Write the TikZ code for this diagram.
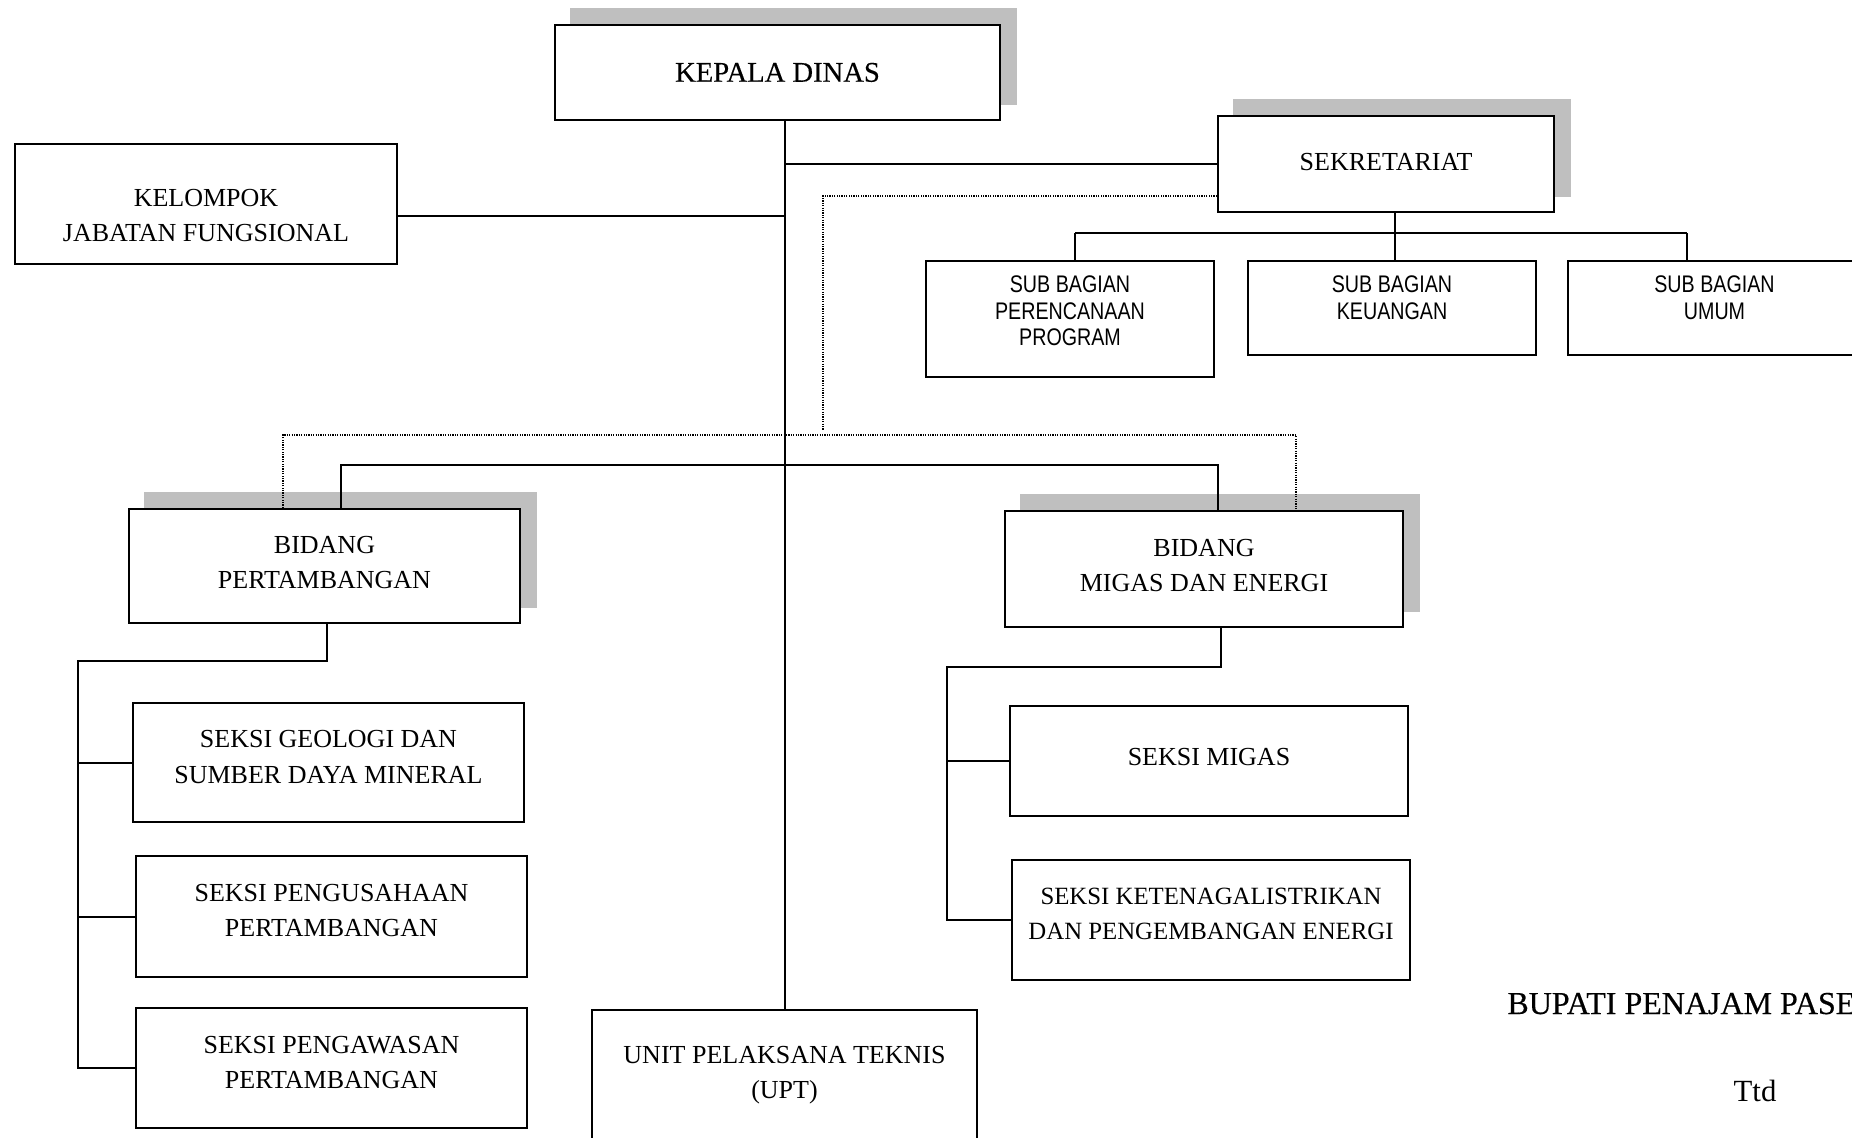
\documentclass[tikz,border=0pt]{standalone}
\usepackage{fontspec}
\setmainfont{Liberation Serif}
\newfontfamily\narrowsans[FakeStretch=0.82]{Liberation Sans}
\newfontfamily\heavyserif[FakeBold=0.35]{Liberation Serif}
\usetikzlibrary{backgrounds}
\definecolor{shadowgray}{RGB}{191,191,191}
% #1 name, #2 x1, #3 y1, #4 x2, #5 y2 (px), #6 top gap, #7 extra style, #8 text
\newcommand{\orgbox}[8]{%
  \node[obox,#7,anchor=north west] (#1) at (#2,#3)
   {\parbox[c][\dimexpr 1pt*(#5-#3)/2\relax][t]{\dimexpr 1pt*(#4-#2)/2\relax}{\centering\vspace*{#6}#8\par}};%
}
\begin{document}
\begin{tikzpicture}[x=0.5pt,y=-0.5pt,
  conn/.style={line width=1pt},
  dotline/.style={line width=1pt, dash pattern=on 0.6pt off 0.6pt},
  obox/.style={draw, line width=1pt, fill=white, inner sep=0pt,
    font=\fontsize{13pt}{17.5pt}\selectfont},
  sbox/.style={font=\narrowsans\fontsize{12pt}{13.25pt}\selectfont},
  plain/.style={inner sep=0pt}]
\path[use as bounding box] (0,0) rectangle (1852,1137);
\clip (0,0) rectangle (1852,1137);

% boxes
\orgbox{kd}{554}{24}{999}{119}{18.9pt}{font=\heavyserif\fontsize{14.3pt}{17pt}\selectfont}{KEPALA DINAS}
\orgbox{kel}{14}{143}{396}{263}{22.5pt}{}{KELOMPOK\\JABATAN FUNGSIONAL}
\orgbox{sek}{1217}{115}{1553}{211}{18.7pt}{}{SEKRETARIAT}
\orgbox{sb1}{925}{260}{1213}{376}{7.5pt}{sbox}{SUB BAGIAN\\PERENCANAAN\\PROGRAM}
\orgbox{sb2}{1247}{260}{1535}{354}{7.5pt}{sbox}{SUB BAGIAN\\KEUANGAN}
\orgbox{sb3}{1567}{260}{1860}{354}{7.5pt}{sbox}{SUB BAGIAN\\UMUM}
\orgbox{bp}{128}{508}{519}{622}{13.7pt}{}{BIDANG\\PERTAMBANGAN}
\orgbox{bm}{1004}{510}{1402}{626}{14.2pt}{}{BIDANG\\MIGAS DAN ENERGI}
\orgbox{sg}{132}{702}{523}{821}{13.7pt}{font=\fontsize{13pt}{18pt}\selectfont}{SEKSI GEOLOGI DAN\\SUMBER DAYA MINERAL}
\orgbox{sp}{135}{855}{526}{976}{14.2pt}{}{SEKSI PENGUSAHAAN\\PERTAMBANGAN}
\orgbox{sw}{135}{1007}{526}{1127}{14.2pt}{}{SEKSI PENGAWASAN\\PERTAMBANGAN}
\orgbox{sm}{1009}{705}{1407}{815}{21.2pt}{}{SEKSI MIGAS}
\orgbox{sk}{1011}{859}{1409}{979}{14.2pt}{font=\fontsize{12.4pt}{17.5pt}\selectfont}{SEKSI KETENAGALISTRIKAN\\DAN PENGEMBANGAN ENERGI}
\orgbox{upt}{591}{1009}{976}{1150}{18.2pt}{}{UNIT PELAKSANA TEKNIS\\(UPT)}

% shadows
\begin{scope}[on background layer]
  \foreach \n in {kd,sek,bp,bm}
    \fill[shadowgray] ([shift={(8pt,8pt)}]\n.south west) rectangle ([shift={(8pt,8pt)}]\n.north east);
\end{scope}

% junction coordinates
\coordinate (jk) at (783.5,216);
\coordinate (d0) at (823,196);
\coordinate (d1) at (823,430);
\coordinate (e1) at (283,435);
\coordinate (e2) at (1296,435);
\coordinate (s1) at (341,465);
\coordinate (s2) at (1218,465);
\coordinate (t0) at (1395,233);
\coordinate (t1) at (1075,233);
\coordinate (t3) at (1687,233);
\coordinate (p0) at (327,661);
\coordinate (p1) at (78,661);
\coordinate (m0) at (1221,667);
\coordinate (m1) at (947,667);

% main spine
\draw[conn] (kd.south -| upt.north) -- (upt.north);
\draw[conn] (kel.east |- jk) -- (jk);
\draw[conn] (sek.west) -- (sek.west -| upt.north);

% dotted coordination lines
\draw[dotline] (sek.west |- d0) -- (d0) -- (d1);
\draw[dotline] (bp.north -| e1) -- (e1) -- (e2) -- (bm.north -| e2);

% bidang links
\draw[conn] (bp.north -| s1) -- (s1) -- (s2) -- (bm.north -| s2);

% sekretariat to sub bagian
\draw[conn] (sek.south -| t0) -- (t0);
\draw[conn] (t1) -- (t3);
\draw[conn] (t1) -- (sb1.north -| t1);
\draw[conn] (t0) -- (sb2.north -| t0);
\draw[conn] (t3) -- (sb3.north -| t3);

% bidang pertambangan to seksi
\draw[conn] (bp.south -| p0) -- (p0) -- (p1) -- (p1 |- sw.west) -- (sw.west);
\draw[conn] (p1 |- sg.west) -- (sg.west);
\draw[conn] (p1 |- sp.west) -- (sp.west);

% bidang migas to seksi
\draw[conn] (bm.south -| m0) -- (m0) -- (m1) -- (m1 |- sk.west) -- (sk.west);
\draw[conn] (m1 |- sm.west) -- (sm.west);

% signature
\node[plain, anchor=base west, font=\heavyserif\fontsize{16pt}{19pt}\selectfont] (bup) at (1507,1014) {BUPATI PENAJAM PASE};
\node[plain, anchor=base, font=\fontsize{15.4pt}{18pt}\selectfont] (ttd) at (1755,1101) {Ttd};
\end{tikzpicture}
\end{document}
